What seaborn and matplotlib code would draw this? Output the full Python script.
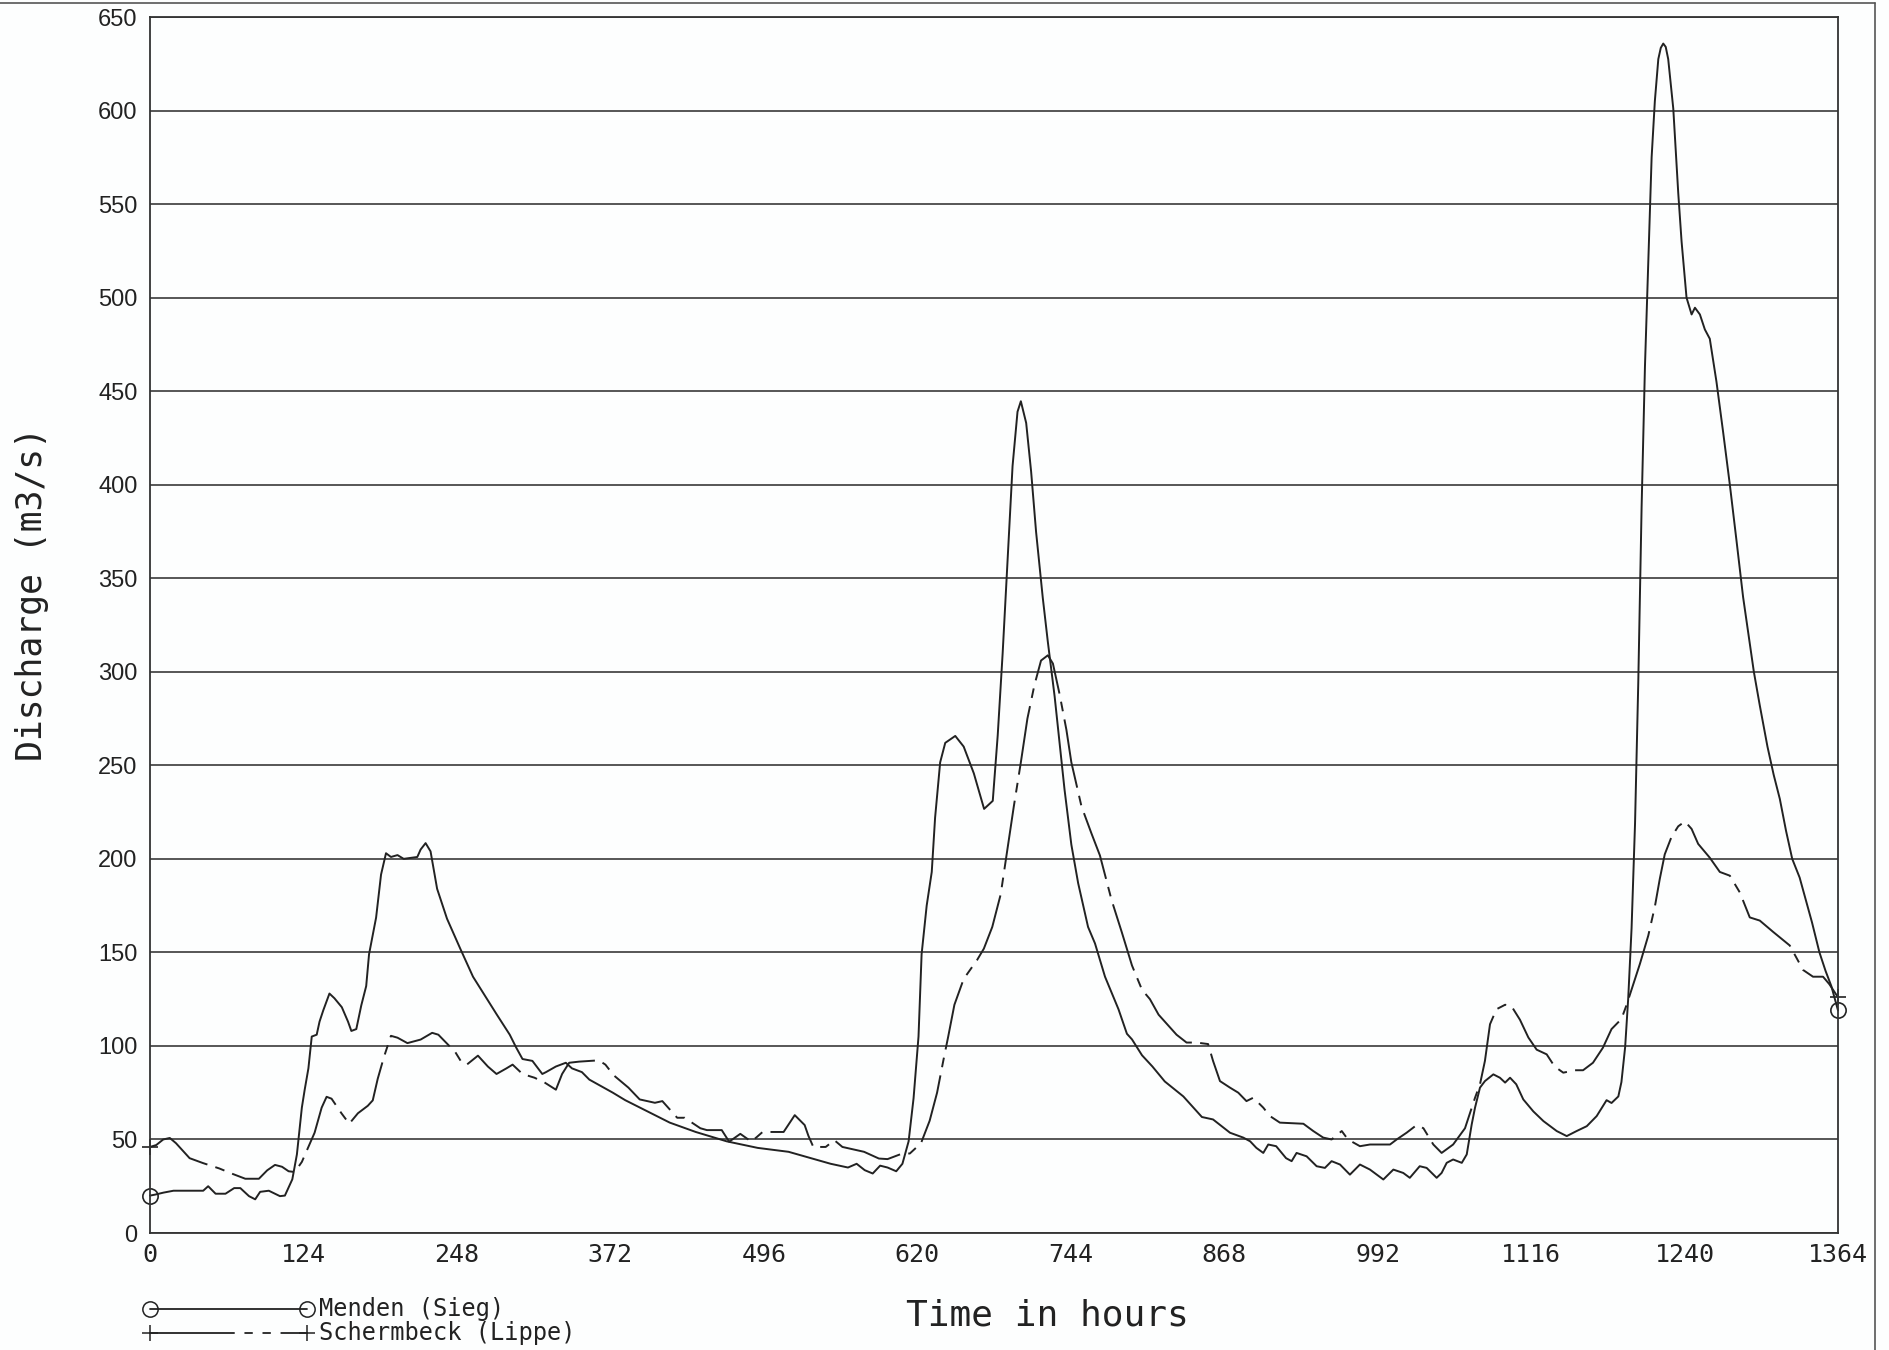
import matplotlib
matplotlib.use("Agg")
import matplotlib.pyplot as plt
from matplotlib import font_manager
from matplotlib.lines import Line2D
import seaborn as sns
import pandas as pd

# Discharge hydrographs, hourly time axis (hours, m3/s)
menden_hours = [
    0, 4, 11, 19, 43, 47, 53, 61, 68, 73, 80, 85, 89, 96, 101, 105, 109, 115,
    118.7, 122.7, 125, 128, 130.7, 134.7, 137, 140, 145, 149, 155, 160, 162.7,
    166.7, 170.7, 174.7, 177, 182.7, 186.7, 190.7, 194.7, 200, 205, 216, 218.7,
    222.7, 226.7, 232, 240, 250.7, 261, 280, 290.7, 296, 301, 309, 317, 320,
    328, 336, 341, 349, 355, 374, 384, 396, 420, 441, 466, 491, 516, 534, 550,
    564, 571, 577.5, 584, 590, 596, 603, 608, 613, 617, 621, 623.5, 627.6,
    631.7, 634.4, 638.5, 642.6, 650.7, 657.5, 665.7, 674, 681, 685, 689, 693,
    697, 701, 703.7, 708, 712, 716, 721.4, 725.5, 731, 739, 744.5, 750, 758,
    763.6, 771.7, 782.6, 789.4, 793.5, 801.6, 810, 820, 835, 850, 859, 872.7,
    883.4, 889, 894, 899.6, 903.6, 910, 918, 922.5, 926.5, 934.6, 942.7, 949.4,
    954.8, 961.6, 969.6, 977.7, 985.8, 996.6, 1004.7, 1012.7, 1018, 1026,
    1031.6, 1039.7, 1043.7, 1047.8, 1053, 1060, 1064, 1068, 1070.7, 1074.7,
    1078.7, 1085.5, 1090.8, 1095, 1099, 1104, 1109.7, 1117.8, 1126, 1136.7,
    1144.8, 1152.8, 1161, 1169, 1177, 1181, 1186.5, 1189, 1192, 1194.5, 1197.2,
    1200, 1202.6, 1205.3, 1208, 1210.7, 1213.4, 1216, 1218.8, 1220.8, 1222.8,
    1224.8, 1226.8, 1230.9, 1234.9, 1237.6, 1241.6, 1245.7, 1248.4, 1252.4,
    1256.4, 1260.4, 1265.8, 1271.2, 1276.6, 1282, 1287.3, 1292.7, 1296, 1300.8,
    1307, 1312, 1317, 1322, 1327, 1333, 1338, 1343, 1349, 1354, 1358.6, 1364,
]
menden_q = [
    20, 20.5, 21.6, 22.6, 22.6, 25, 21, 21, 24, 24, 19.7, 18, 22, 22.6, 21,
    19.7, 20, 28.7, 42, 67, 76.6, 88, 105, 106, 113, 119, 128, 125.5, 120.7,
    113, 108, 109, 121.6, 132, 149, 168.6, 191.6, 203, 201, 202, 200, 201, 205,
    208.4, 204, 184, 168, 152, 137, 117, 106, 99, 93, 92, 85, 86, 89, 91,
    88, 86, 82, 75, 71, 67, 59, 54, 49, 45.5, 43.4, 40, 37, 35, 37, 33.6, 31.8,
    36, 35, 33, 37, 49, 72, 105, 149, 175, 193, 222, 251.6, 262, 265.7, 260,
    245.7, 226.7, 231, 266, 310, 360, 410, 439, 444.6, 433, 407, 374.8, 339.6,
    316, 286.8, 237, 207.6, 187, 163.6, 154.8, 137, 119.6, 106.5, 103.5, 95, 89,
    81, 73, 62, 60.7, 53.6, 51, 49, 45.5, 42.8, 47.3, 46.4, 40, 38.4, 42.8, 41,
    35.7, 34.8, 38.4, 36.6, 31.2, 36.6, 33.9, 28.6, 33.9, 32.1, 29.5, 35.7,
    34.8, 29.5, 32.1, 37.5, 39.3, 37.5, 42, 58, 67, 77.7, 81.2, 84.8, 83, 80.4,
    83, 79.5, 71.4, 65, 59.8, 54.5, 51.8, 54.5, 57.1, 62.5, 71, 69.5, 73, 80.7,
    99.4, 125.6, 163, 219, 294, 388, 463, 519, 575, 605, 627.5, 633.5, 635.8,
    634, 627.5, 601, 556, 530, 500, 491, 494.6, 491, 483, 478, 455, 428, 400,
    370, 340, 315, 300, 282, 260, 245, 232, 215, 200, 190, 178, 166, 150, 140,
    132, 119,
]

schermbeck_hours = [
    0, 5, 10.7, 16, 21, 32, 42.7, 56, 66.7, 77, 88, 94.7, 101, 106.7, 112, 117,
    122.7, 128, 133, 138.7, 142.7, 146.7, 154.7, 161, 168, 176, 180, 184, 189,
    194.7, 200, 208, 218.7, 228, 233, 241, 246.7, 252, 256, 265, 273, 280, 288,
    293, 301, 310.7, 318.7, 328, 333, 338.7, 346.7, 362.7, 368, 374.7, 386.6,
    395.7, 408, 414, 426, 432, 444.7, 450, 462, 468, 477, 486, 495, 512, 521,
    529, 532, 536, 546, 553, 559.5, 577, 589, 596, 608, 614, 623, 630, 636, 641,
    645, 650, 657.5, 668.4, 673.8, 680.6, 687.4, 694, 698, 703.7, 709, 714.6,
    720, 725.5, 729.6, 735, 740.5, 744.5, 752.7, 760.8, 767.6, 777, 785.3,
    793.5, 801.6, 808, 815, 820, 829.5, 837.6, 845.7, 855, 859, 864.6, 872.7,
    879.4, 886, 891.5, 899.6, 905, 913, 932, 940, 948, 954.8, 963, 968, 977.7,
    985.8, 1002, 1007.4, 1015.4, 1023.5, 1029, 1037, 1043.7, 1053, 1062.6,
    1070.7, 1074.7, 1078.7, 1082.8, 1088, 1095, 1100, 1107, 1113.8, 1120.5,
    1128.6, 1135, 1142, 1151.5, 1158, 1166, 1174, 1181, 1189, 1193.2, 1198.6,
    1204, 1210.7, 1216, 1220, 1224, 1229.5, 1234.9, 1240.3, 1245.7, 1251,
    1260.4, 1268.5, 1276.6, 1284.7, 1292.7, 1300.8, 1311.5, 1325, 1335.8,
    1343.8, 1351.9, 1357, 1364,
]
schermbeck_q = [
    46, 47, 50, 50.8, 48, 40, 37.4, 34.5, 31.6, 29, 29, 33.5, 36.4, 35.4, 33,
    32.6, 38, 46, 53.6, 67, 72.8, 71.8, 64, 58.4, 64, 68, 70.9, 82.4, 94, 105.4,
    104.4, 101.5, 103.4, 107, 106, 100.6, 96.7, 91, 90, 94.8, 89, 85, 88, 90,
    85, 83, 80.5, 76.6, 85, 91, 91.6, 92.3, 90, 84.3, 77.7, 71.4, 69.6, 70.5,
    61.6, 61.6, 56, 55, 55, 48.8, 53, 48.8, 54, 54, 63, 57.7, 52, 46, 46, 49.6,
    46, 43.4, 39.8, 39.5, 42.5, 42.5, 48, 60, 75, 92, 105, 122, 135.8, 146, 152,
    163.6, 181, 210.5, 228, 251.6, 275, 292.7, 306, 308.8, 304.4, 288, 269,
    251.6, 228, 213.5, 201.8, 178, 160.7, 143, 130, 125, 116.7, 113, 106, 101.8,
    101.8, 101, 92, 81.2, 77.7, 75, 70.5, 72.3, 67, 62.5, 59, 58.4, 54.5, 51, 50,
    54.5, 50, 46.4, 47.3, 47.3, 50, 53.6, 57.7, 56, 47.3, 42.8, 47.3, 56, 72.3,
    79.5, 92, 111.6, 119.6, 122, 121.4, 114, 104.5, 98, 95.5, 89, 85.7, 87, 87,
    91, 99, 109, 114.4, 122, 133, 144, 159, 174.4, 189.3, 202.4, 211.8, 217.4,
    220, 216, 208, 200.6, 193, 191, 182, 168.7, 167, 161, 153.7, 140.6, 137, 137,
    133, 126,
]

station_names = ["Menden (Sieg)", "Schermbeck (Lippe)"]
x_ticks = [0, 124, 248, 372, 496, 620, 744, 868, 992, 1116, 1240, 1364]
y_ticks = list(range(0, 651, 50))
x_label = "Time in hours"
y_label = "Discharge (m3/s)"

INK = "#222222"
PAPER = "#fdfefe"
MONO = ["DejaVu Sans Mono"]
installed = {f.name for f in font_manager.fontManager.ttflist}
if "Liberation Sans Narrow" in installed:
    TICK_SANS, TICK_SIZE = ["Liberation Sans Narrow"], 19
else:
    TICK_SANS, TICK_SIZE = ["Liberation Sans"], 17
dash_pattern = (0, (50, 6, 7, 6))
key_dash = (0, (61, 7, 6, 7, 6, 7, 60, 1))

sns.set_theme(style="white")
plt.rcParams["font.family"] = MONO
plt.rcParams["lines.scale_dashes"] = False

W, H = 1890, 1350
fig = plt.figure(figsize=(W / 100, H / 100), dpi=100, facecolor=PAPER)
ax = fig.add_axes([150 / W, 1 - 1233 / H, (1838 - 150) / W, (1233 - 17) / H])
ax.set_facecolor(PAPER)

menden = pd.DataFrame({"hours": menden_hours, "q": menden_q})
lippe = pd.DataFrame({"hours": schermbeck_hours, "q": schermbeck_q})

sns.lineplot(data=menden, x="hours", y="q", ax=ax, color=INK, lw=1.4,
             estimator=None, sort=False)
sns.lineplot(data=lippe, x="hours", y="q", ax=ax, color=INK, lw=1.4,
             estimator=None, sort=False)
line_m, line_l = ax.lines[0], ax.lines[1]
line_l.set_linestyle(dash_pattern)

# end markers on both series
for ln, mk, n in [(line_m, "o", len(menden_q)), (line_l, "+", len(schermbeck_q))]:
    ln.set_marker(mk)
    ln.set_markevery([0, n - 1])
    ln.set_markersize(11 if mk == "o" else 12)
    ln.set_markerfacecolor("none")
    ln.set_markeredgecolor(INK)
    ln.set_markeredgewidth(1.2)
    ln.set_clip_on(False)

ax.set_xlim(0, 1364)
ax.set_ylim(0, 650)
ax.set_xticks(x_ticks)
ax.set_yticks(y_ticks)
ax.yaxis.grid(True, color="#3a3a3a", lw=1.2)
ax.xaxis.grid(False)
ax.set_axisbelow(True)
for s in ax.spines.values():
    s.set_visible(True)
    s.set_color("#333333")
    s.set_linewidth(1.3)

ax.tick_params(axis="x", direction="in", length=6, width=1.1, color=INK,
               pad=7, labelsize=18, labelcolor=INK)
ax.tick_params(axis="y", direction="out", length=4, width=1.1, color=INK,
               pad=5, labelcolor=INK)
for lab in ax.get_yticklabels():
    lab.set_fontfamily(TICK_SANS)
    lab.set_fontsize(TICK_SIZE)
for lab in ax.get_xticklabels():
    lab.set_fontfamily(MONO)

ax.set_xlabel("")
ax.set_ylabel("")
fig.text(32 / W, 0.56, y_label, rotation=90, ha="center", va="center",
         fontsize=25, color=INK, family=MONO)
fig.text(1047 / W, 1 - 1316 / H, x_label, ha="center", va="center",
         fontsize=26, color=INK, family=MONO)

# key below the plot
key_rows = [(1309, "-", "o"), (1333, key_dash, "+")]
for (ypix, ls, mk), name in zip(key_rows, station_names):
    yf = 1 - ypix / H
    fig.add_artist(Line2D([150 / W, 307 / W], [yf, yf], transform=fig.transFigure,
                          color=INK, lw=1.3, linestyle=ls, marker=mk,
                          markersize=11 if mk == "o" else 12,
                          markerfacecolor="none", markeredgecolor=INK,
                          markeredgewidth=1.1))
    fig.text(319 / W, yf, name, ha="left", va="center", fontsize=17,
             color=INK, family=MONO)

# outer sheet frame
fig.add_artist(Line2D([0, 1875 / W], [1 - 3 / H, 1 - 3 / H],
                      transform=fig.transFigure, color="#555555", lw=1.2))
fig.add_artist(Line2D([1875 / W, 1875 / W], [0, 1 - 3 / H],
                      transform=fig.transFigure, color="#555555", lw=1.2))

fig.savefig("out.png", dpi=100, facecolor=PAPER)
